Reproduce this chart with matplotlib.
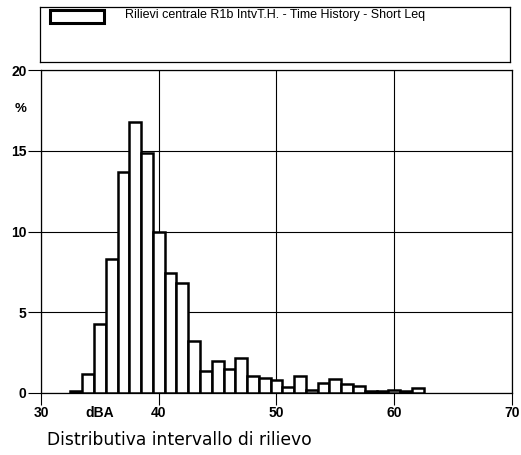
import numpy as np
import matplotlib
matplotlib.use('Agg')
import matplotlib.pyplot as plt
from matplotlib.patches import Rectangle

plt.rcParams['font.family'] = ['Liberation Sans', 'DejaVu Sans']

# level classes (dBA, bin centres) and percentage of time
levels = [33, 34, 35, 36, 37, 38, 39, 40, 41, 42, 43, 44, 45, 46, 47,
          48, 49, 50, 51, 52, 53, 54, 55, 56, 57, 58, 59, 60, 61, 62]
percent = [0.1, 1.2, 4.3, 8.3, 13.7, 16.8, 14.85, 10.0, 7.45, 6.8, 3.25,
           1.35, 2.0, 1.5, 2.15, 1.05, 0.95, 0.8, 0.4, 1.05, 0.2, 0.6,
           0.85, 0.55, 0.45, 0.15, 0.15, 0.2, 0.15, 0.3]
xticks = [30, 40, 50, 60, 70]
yticks = [0, 5, 10, 15, 20]
legend_label = 'Rilievi centrale R1b IntvT.H. - Time History - Short Leq'
caption = 'Distributiva intervallo di rilievo'

fig = plt.figure(figsize=(5.21, 4.55), dpi=100)
ax = fig.add_axes([0.0787, 0.1363, 0.9040, 0.7097])

ax.bar(levels, percent, width=1.0, color='white', edgecolor='black',
       linewidth=1.8, zorder=3)

ax.set_xlim(30, 70)
ax.set_ylim(0, 20)
ax.set_xticks(xticks)
ax.set_yticks(yticks)
ax.grid(True, color='black', linewidth=0.8, zorder=0)
ax.tick_params(axis='y', direction='out', length=9.5, width=0.8,
               labelsize=10, pad=1)
ax.tick_params(axis='x', direction='out', length=8.5, width=0.8,
               labelsize=10, pad=1)
for lab in ax.get_xticklabels() + ax.get_yticklabels():
    lab.set_fontweight('bold')
for sp in ax.spines.values():
    sp.set_linewidth(0.9)

ax.text(-0.03, 0.88, '%', transform=ax.transAxes, fontsize=9.5,
        fontweight='bold', ha='right', va='center')
ax.text(35, -0.04, 'dBA', transform=ax.get_xaxis_transform(), fontsize=10,
        fontweight='bold', ha='center', va='top')

# legend box at the top
lax = fig.add_axes([0.0768, 0.8637, 0.902, 0.121])
lax.set_xlim(0, 1)
lax.set_ylim(0, 1)
lax.set_xticks([])
lax.set_yticks([])
for sp in lax.spines.values():
    sp.set_linewidth(0.9)
lax.add_patch(Rectangle((0.022, 0.70), 0.115, 0.25, facecolor='white',
                        edgecolor='black', linewidth=2.2))
lax.text(0.18, 0.86, legend_label, fontsize=9, va='center', ha='left')

fig.text(0.09, 0.033, caption, fontsize=12.3, family='DejaVu Sans',
         ha='left', va='center')

fig.savefig('out.png', dpi=100)
